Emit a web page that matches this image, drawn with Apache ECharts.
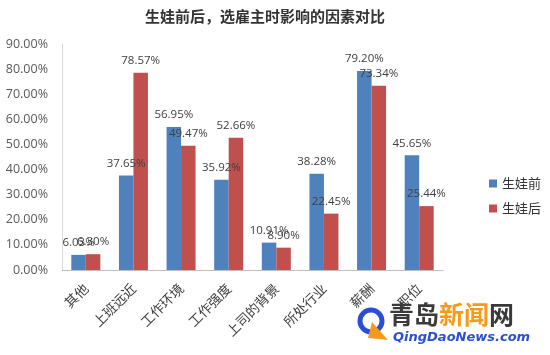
<!DOCTYPE html>
<html><head><meta charset="utf-8">
<script src="https://cdn.jsdelivr.net/npm/echarts@6/dist/echarts.min.js"></script>
<style>html,body{margin:0;padding:0;background:#fff}#c{width:550px;height:355px}</style>
</head><body><div id="c"></div>
<script>
const categories = ['其他','上班远近','工作环境','工作强度','上司的背景','所处行业','薪酬','职位'];
const before = [6.03, 37.65, 56.95, 35.92, 10.91, 38.28, 79.20, 45.65];
const after = [6.30, 78.57, 49.47, 52.66, 8.90, 22.45, 73.34, 25.44];
const seriesNames = ['生娃前','生娃后'];
const yTicks = {min: 0, max: 90, interval: 10};

const chart = echarts.init(document.getElementById('c'));
const lbl = {
  show: true, position: 'top', distance: 6,
  fontFamily: 'Open Sans, DejaVu Sans, sans-serif', fontSize: 11.5, color: '#404040',
  formatter: p => p.value.toFixed(2) + '%'
};
chart.setOption({
  animation: false,
  title: {
    text: '生娃前后，选雇主时影响的因素对比', left: 260, textAlign: 'center', top: 4,
    textStyle: {fontFamily: 'Noto Sans CJK SC', fontSize: 15, fontWeight: 'bold', color: '#333'}
  },
  legend: {
    orient: 'vertical', left: 484, top: 172, itemWidth: 8, itemHeight: 8, itemGap: 12,
    icon: 'rect', data: seriesNames,
    textStyle: {fontFamily: 'Noto Sans CJK SC', fontSize: 13, color: '#333'}
  },
  grid: {left: 62, right: 107, top: 44, bottom: 85, containLabel: false},
  xAxis: {
    type: 'category', data: categories,
    axisLine: {lineStyle: {color: '#bfbfbf'}}, axisTick: {show: false},
    axisLabel: {rotate: 45, interval: 0, margin: 16, fontFamily: 'Noto Sans CJK SC', fontSize: 13.5, color: '#404040'}
  },
  yAxis: {
    type: 'value', min: yTicks.min, max: yTicks.max, interval: yTicks.interval,
    axisLine: {show: true, lineStyle: {color: '#d9d9d9'}}, axisTick: {show: false},
    splitLine: {show: false},
    axisLabel: {margin: 14, fontFamily: 'Open Sans, DejaVu Sans, sans-serif', fontSize: 12.5, color: '#595959',
      formatter: v => v.toFixed(2) + '%'}
  },
  series: [
    {name: seriesNames[0], type: 'bar', data: before, barWidth: 14.5, barGap: '0%', itemStyle: {color: '#4F81BD'}, label: lbl},
    {name: seriesNames[1], type: 'bar', data: after, barWidth: 14.5, barGap: '0%', itemStyle: {color: '#C0504D'}, label: lbl}
  ],
  graphic: [
    {type: 'circle', shape: {cx: 371, cy: 321, r: 11}, style: {fill: 'none', stroke: '#2a4fd6', lineWidth: 5}},
    {type: 'polygon', shape: {points: [[372, 322], [388, 340], [368, 338]]}, style: {fill: '#f59a1b'}},
    {type: 'text', left: 389, top: 302, style: {text: '青岛', font: 'bold 25px "Noto Sans CJK SC"', fill: '#3a3a3a'}},
    {type: 'text', left: 439, top: 302, style: {text: '新闻', font: 'bold 25px "Noto Sans CJK SC"', fill: '#f59a1b'}},
    {type: 'text', left: 489, top: 302, style: {text: '网', font: 'bold 25px "Noto Sans CJK SC"', fill: '#3a3a3a'}},
    {type: 'text', left: 393, top: 331, style: {text: 'QingDaoNews.com', font: 'italic bold 13px "DejaVu Sans"', fill: '#2a4fd6'}}
  ]
});
</script></body></html>
